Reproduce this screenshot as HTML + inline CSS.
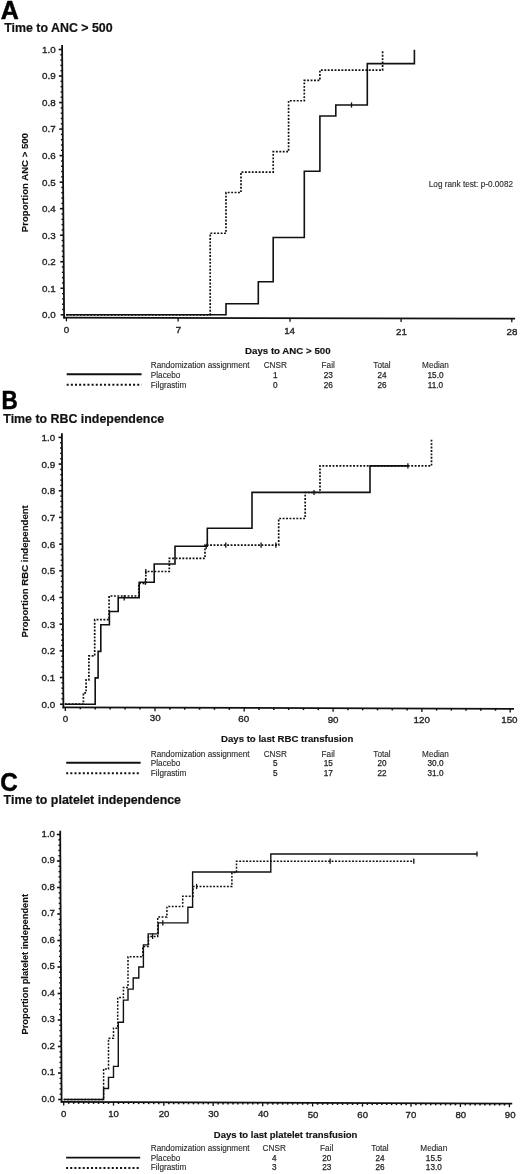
<!DOCTYPE html><html><head><meta charset="utf-8"><style>html,body{margin:0;padding:0;background:#fff;}svg{display:block;filter:grayscale(1);}</style></head><body>
<svg width="520" height="1174" viewBox="0 0 520 1174" font-family='"Liberation Sans", sans-serif'>
<rect width="520" height="1174" fill="#fff"/>
<g fill="#000" stroke="#000" stroke-width="0.5">
<text x="0" y="0" font-size="25" font-weight="bold" transform="translate(0.8 18.7) scale(1.0 1)">A</text>
</g>
<g fill="#111" stroke="#111" stroke-width="0.2">
<text x="4.2" y="31.8" font-size="12.4" font-weight="bold" text-anchor="start" >Time to ANC &gt; 500</text>
</g>
<g stroke="#111" fill="none" stroke-linecap="square">
<line x1="62.1" y1="45.9" x2="64.1" y2="317.7" stroke-width="1.8" />
<line x1="64.1" y1="317.7" x2="514.2" y2="318.6" stroke-width="1.8" />
</g>
<g stroke="#111" fill="none">
<line x1="60.68" y1="314.8" x2="64.08" y2="314.8" stroke-width="1.6" />
<line x1="62.14" y1="309.49" x2="64.04" y2="309.49" stroke-width="1.4" />
<line x1="62.1" y1="304.19" x2="64" y2="304.19" stroke-width="1.4" />
<line x1="62.06" y1="298.88" x2="63.96" y2="298.88" stroke-width="1.4" />
<line x1="62.02" y1="293.58" x2="63.92" y2="293.58" stroke-width="1.4" />
<line x1="60.48" y1="288.27" x2="63.88" y2="288.27" stroke-width="1.6" />
<line x1="61.94" y1="282.96" x2="63.84" y2="282.96" stroke-width="1.4" />
<line x1="61.91" y1="277.66" x2="63.81" y2="277.66" stroke-width="1.4" />
<line x1="61.87" y1="272.35" x2="63.77" y2="272.35" stroke-width="1.4" />
<line x1="61.83" y1="267.05" x2="63.73" y2="267.05" stroke-width="1.4" />
<line x1="60.29" y1="261.74" x2="63.69" y2="261.74" stroke-width="1.6" />
<line x1="61.75" y1="256.43" x2="63.65" y2="256.43" stroke-width="1.4" />
<line x1="61.71" y1="251.13" x2="63.61" y2="251.13" stroke-width="1.4" />
<line x1="61.67" y1="245.82" x2="63.57" y2="245.82" stroke-width="1.4" />
<line x1="61.63" y1="240.52" x2="63.53" y2="240.52" stroke-width="1.4" />
<line x1="60.09" y1="235.21" x2="63.49" y2="235.21" stroke-width="1.6" />
<line x1="61.55" y1="229.9" x2="63.45" y2="229.9" stroke-width="1.4" />
<line x1="61.51" y1="224.6" x2="63.41" y2="224.6" stroke-width="1.4" />
<line x1="61.48" y1="219.29" x2="63.38" y2="219.29" stroke-width="1.4" />
<line x1="61.44" y1="213.99" x2="63.34" y2="213.99" stroke-width="1.4" />
<line x1="59.9" y1="208.68" x2="63.3" y2="208.68" stroke-width="1.6" />
<line x1="61.36" y1="203.37" x2="63.26" y2="203.37" stroke-width="1.4" />
<line x1="61.32" y1="198.07" x2="63.22" y2="198.07" stroke-width="1.4" />
<line x1="61.28" y1="192.76" x2="63.18" y2="192.76" stroke-width="1.4" />
<line x1="61.24" y1="187.46" x2="63.14" y2="187.46" stroke-width="1.4" />
<line x1="59.7" y1="182.15" x2="63.1" y2="182.15" stroke-width="1.6" />
<line x1="61.16" y1="176.84" x2="63.06" y2="176.84" stroke-width="1.4" />
<line x1="61.12" y1="171.54" x2="63.02" y2="171.54" stroke-width="1.4" />
<line x1="61.09" y1="166.23" x2="62.99" y2="166.23" stroke-width="1.4" />
<line x1="61.05" y1="160.93" x2="62.95" y2="160.93" stroke-width="1.4" />
<line x1="59.51" y1="155.62" x2="62.91" y2="155.62" stroke-width="1.6" />
<line x1="60.97" y1="150.31" x2="62.87" y2="150.31" stroke-width="1.4" />
<line x1="60.93" y1="145.01" x2="62.83" y2="145.01" stroke-width="1.4" />
<line x1="60.89" y1="139.7" x2="62.79" y2="139.7" stroke-width="1.4" />
<line x1="60.85" y1="134.4" x2="62.75" y2="134.4" stroke-width="1.4" />
<line x1="59.31" y1="129.09" x2="62.71" y2="129.09" stroke-width="1.6" />
<line x1="60.77" y1="123.78" x2="62.67" y2="123.78" stroke-width="1.4" />
<line x1="60.73" y1="118.48" x2="62.63" y2="118.48" stroke-width="1.4" />
<line x1="60.7" y1="113.17" x2="62.6" y2="113.17" stroke-width="1.4" />
<line x1="60.66" y1="107.87" x2="62.56" y2="107.87" stroke-width="1.4" />
<line x1="59.12" y1="102.56" x2="62.52" y2="102.56" stroke-width="1.6" />
<line x1="60.58" y1="97.25" x2="62.48" y2="97.25" stroke-width="1.4" />
<line x1="60.54" y1="91.95" x2="62.44" y2="91.95" stroke-width="1.4" />
<line x1="60.5" y1="86.64" x2="62.4" y2="86.64" stroke-width="1.4" />
<line x1="60.46" y1="81.34" x2="62.36" y2="81.34" stroke-width="1.4" />
<line x1="58.92" y1="76.03" x2="62.32" y2="76.03" stroke-width="1.6" />
<line x1="60.38" y1="70.72" x2="62.28" y2="70.72" stroke-width="1.4" />
<line x1="60.34" y1="65.42" x2="62.24" y2="65.42" stroke-width="1.4" />
<line x1="60.3" y1="60.11" x2="62.2" y2="60.11" stroke-width="1.4" />
<line x1="60.27" y1="54.81" x2="62.17" y2="54.81" stroke-width="1.4" />
<line x1="58.73" y1="49.5" x2="62.13" y2="49.5" stroke-width="1.6" />
<line x1="66.4" y1="317.7" x2="66.4" y2="321.3" stroke-width="1.3" />
<line x1="178.1" y1="317.93" x2="178.1" y2="321.53" stroke-width="1.3" />
<line x1="290" y1="318.15" x2="290" y2="321.75" stroke-width="1.3" />
<line x1="401.1" y1="318.37" x2="401.1" y2="321.97" stroke-width="1.3" />
<line x1="511.8" y1="318.6" x2="511.8" y2="322.2" stroke-width="1.3" />
</g>
<g fill="#222" stroke="#222" stroke-width="0.35">
<text x="55.6" y="318.2" font-size="9.8" font-weight="normal" text-anchor="end" >0.0</text>
<text x="55.6" y="291.67" font-size="9.8" font-weight="normal" text-anchor="end" >0.1</text>
<text x="55.6" y="265.14" font-size="9.8" font-weight="normal" text-anchor="end" >0.2</text>
<text x="55.6" y="238.61" font-size="9.8" font-weight="normal" text-anchor="end" >0.3</text>
<text x="55.6" y="212.08" font-size="9.8" font-weight="normal" text-anchor="end" >0.4</text>
<text x="55.6" y="185.55" font-size="9.8" font-weight="normal" text-anchor="end" >0.5</text>
<text x="55.6" y="159.02" font-size="9.8" font-weight="normal" text-anchor="end" >0.6</text>
<text x="55.6" y="132.49" font-size="9.8" font-weight="normal" text-anchor="end" >0.7</text>
<text x="55.6" y="105.96" font-size="9.8" font-weight="normal" text-anchor="end" >0.8</text>
<text x="55.6" y="79.43" font-size="9.8" font-weight="normal" text-anchor="end" >0.9</text>
<text x="55.6" y="52.9" font-size="9.8" font-weight="normal" text-anchor="end" >1.0</text>
<text x="66.5" y="333.3" font-size="9.8" font-weight="normal" text-anchor="middle" >0</text>
<text x="178.4" y="333.4" font-size="9.8" font-weight="normal" text-anchor="middle" >7</text>
<text x="289.6" y="333.8" font-size="9.8" font-weight="normal" text-anchor="middle" >14</text>
<text x="401.4" y="334.9" font-size="9.8" font-weight="normal" text-anchor="middle" >21</text>
<text x="512" y="334.9" font-size="9.8" font-weight="normal" text-anchor="middle" >28</text>
</g>
<g fill="#111" stroke="#111" stroke-width="0.15">
<text x="287.8" y="354.3" font-size="9.7" font-weight="bold" text-anchor="middle" >Days to ANC &gt; 500</text>
<text x="0" y="0" font-size="9.6" font-weight="bold" text-anchor="middle" transform="translate(28.2 182.6) rotate(-90)">Proportion ANC &gt; 500</text>
</g>
<g fill="#2a2a2a" stroke="#2a2a2a" stroke-width="0.12">
<text x="150.8" y="367.9" font-size="8.2" font-weight="normal" text-anchor="start" >Randomization assignment</text>
<text x="150.8" y="377.7" font-size="8.2" font-weight="normal" text-anchor="start" >Placebo</text>
<text x="150.8" y="387.5" font-size="8.2" font-weight="normal" text-anchor="start" >Filgrastim</text>
<text x="275.3" y="367.9" font-size="8.2" font-weight="normal" text-anchor="middle" >CNSR</text>
<text x="275.3" y="377.7" font-size="8.2" font-weight="normal" text-anchor="middle" stroke-width="0.25" fill="#1e1e1e" stroke="#1e1e1e">1</text>
<text x="275.3" y="387.5" font-size="8.2" font-weight="normal" text-anchor="middle" stroke-width="0.25" fill="#1e1e1e" stroke="#1e1e1e">0</text>
<text x="328.2" y="367.9" font-size="8.2" font-weight="normal" text-anchor="middle" >Fail</text>
<text x="328.2" y="377.7" font-size="8.2" font-weight="normal" text-anchor="middle" stroke-width="0.25" fill="#1e1e1e" stroke="#1e1e1e">23</text>
<text x="328.2" y="387.5" font-size="8.2" font-weight="normal" text-anchor="middle" stroke-width="0.25" fill="#1e1e1e" stroke="#1e1e1e">26</text>
<text x="382" y="367.9" font-size="8.2" font-weight="normal" text-anchor="middle" >Total</text>
<text x="382" y="377.7" font-size="8.2" font-weight="normal" text-anchor="middle" stroke-width="0.25" fill="#1e1e1e" stroke="#1e1e1e">24</text>
<text x="382" y="387.5" font-size="8.2" font-weight="normal" text-anchor="middle" stroke-width="0.25" fill="#1e1e1e" stroke="#1e1e1e">26</text>
<text x="435.5" y="367.9" font-size="8.2" font-weight="normal" text-anchor="middle" >Median</text>
<text x="435.5" y="377.7" font-size="8.2" font-weight="normal" text-anchor="middle" stroke-width="0.25" fill="#1e1e1e" stroke="#1e1e1e">15.0</text>
<text x="435.5" y="387.5" font-size="8.2" font-weight="normal" text-anchor="middle" stroke-width="0.25" fill="#1e1e1e" stroke="#1e1e1e">11.0</text>
<text x="513" y="187.4" font-size="8.2" font-weight="normal" text-anchor="end" >Log rank test: p-0.0082</text>
</g>
<g stroke="#111" fill="none">
<line x1="66.7" y1="374.2" x2="141.6" y2="374.2" stroke-width="1.9" />
<line x1="66.7" y1="384.7" x2="141.6" y2="384.7" stroke-width="1.9" stroke-dasharray="2 2.15"/>
</g>
<path d="M66.2 314.8 L226 314.8 L226 303.76 L258.3 303.76 L258.3 281.68 L273.2 281.68 L273.2 237.51 L304.3 237.51 L304.3 171.26 L319.9 171.26 L319.9 116.05 L335.8 116.05 L335.8 105.01 L367.3 105.01 L367.3 63.61 L414.4 63.61 L414.4 49.8" fill="none" stroke="#111" stroke-width="1.6"/>
<path d="M66.2 314.8 L210.2 314.8 L210.2 233.26 L226 233.26 L226 192.49 L241 192.49 L241 172.11 L273.2 172.11 L273.2 151.72 L288.6 151.72 L288.6 100.76 L304.3 100.76 L304.3 80.38 L319.9 80.38 L319.9 70.18 L382.6 70.18 L382.6 49.8" fill="none" stroke="#111" stroke-width="1.7" stroke-dasharray="1.9 1.52"/>
<g stroke="#111">
<line x1="351.5" y1="102.41" x2="351.5" y2="107.61" stroke-width="1.3" />
</g>
<g fill="#000" stroke="#000" stroke-width="0.5">
<text x="0" y="0" font-size="25" font-weight="bold" transform="translate(1.6 408.7) scale(0.9 1)">B</text>
</g>
<g fill="#111" stroke="#111" stroke-width="0.2">
<text x="3.3" y="422.5" font-size="12.4" font-weight="bold" text-anchor="start" >Time to RBC independence</text>
</g>
<g stroke="#111" fill="none" stroke-linecap="square">
<line x1="61.9" y1="434.2" x2="63.4" y2="707.3" stroke-width="1.8" />
<line x1="63.4" y1="707.3" x2="513.1" y2="708.8" stroke-width="1.8" />
</g>
<g stroke="#111" fill="none">
<line x1="59.98" y1="704.2" x2="63.38" y2="704.2" stroke-width="1.6" />
<line x1="61.45" y1="698.86" x2="63.35" y2="698.86" stroke-width="1.4" />
<line x1="61.42" y1="693.53" x2="63.32" y2="693.53" stroke-width="1.4" />
<line x1="61.4" y1="688.19" x2="63.3" y2="688.19" stroke-width="1.4" />
<line x1="61.37" y1="682.86" x2="63.27" y2="682.86" stroke-width="1.4" />
<line x1="59.84" y1="677.52" x2="63.24" y2="677.52" stroke-width="1.6" />
<line x1="61.31" y1="672.18" x2="63.21" y2="672.18" stroke-width="1.4" />
<line x1="61.28" y1="666.85" x2="63.18" y2="666.85" stroke-width="1.4" />
<line x1="61.25" y1="661.51" x2="63.15" y2="661.51" stroke-width="1.4" />
<line x1="61.22" y1="656.18" x2="63.12" y2="656.18" stroke-width="1.4" />
<line x1="59.69" y1="650.84" x2="63.09" y2="650.84" stroke-width="1.6" />
<line x1="61.16" y1="645.5" x2="63.06" y2="645.5" stroke-width="1.4" />
<line x1="61.13" y1="640.17" x2="63.03" y2="640.17" stroke-width="1.4" />
<line x1="61.1" y1="634.83" x2="63" y2="634.83" stroke-width="1.4" />
<line x1="61.07" y1="629.5" x2="62.97" y2="629.5" stroke-width="1.4" />
<line x1="59.54" y1="624.16" x2="62.94" y2="624.16" stroke-width="1.6" />
<line x1="61.01" y1="618.82" x2="62.91" y2="618.82" stroke-width="1.4" />
<line x1="60.98" y1="613.49" x2="62.88" y2="613.49" stroke-width="1.4" />
<line x1="60.96" y1="608.15" x2="62.86" y2="608.15" stroke-width="1.4" />
<line x1="60.93" y1="602.82" x2="62.83" y2="602.82" stroke-width="1.4" />
<line x1="59.4" y1="597.48" x2="62.8" y2="597.48" stroke-width="1.6" />
<line x1="60.87" y1="592.14" x2="62.77" y2="592.14" stroke-width="1.4" />
<line x1="60.84" y1="586.81" x2="62.74" y2="586.81" stroke-width="1.4" />
<line x1="60.81" y1="581.47" x2="62.71" y2="581.47" stroke-width="1.4" />
<line x1="60.78" y1="576.14" x2="62.68" y2="576.14" stroke-width="1.4" />
<line x1="59.25" y1="570.8" x2="62.65" y2="570.8" stroke-width="1.6" />
<line x1="60.72" y1="565.46" x2="62.62" y2="565.46" stroke-width="1.4" />
<line x1="60.69" y1="560.13" x2="62.59" y2="560.13" stroke-width="1.4" />
<line x1="60.66" y1="554.79" x2="62.56" y2="554.79" stroke-width="1.4" />
<line x1="60.63" y1="549.46" x2="62.53" y2="549.46" stroke-width="1.4" />
<line x1="59.1" y1="544.12" x2="62.5" y2="544.12" stroke-width="1.6" />
<line x1="60.57" y1="538.78" x2="62.47" y2="538.78" stroke-width="1.4" />
<line x1="60.55" y1="533.45" x2="62.45" y2="533.45" stroke-width="1.4" />
<line x1="60.52" y1="528.11" x2="62.42" y2="528.11" stroke-width="1.4" />
<line x1="60.49" y1="522.78" x2="62.39" y2="522.78" stroke-width="1.4" />
<line x1="58.96" y1="517.44" x2="62.36" y2="517.44" stroke-width="1.6" />
<line x1="60.43" y1="512.1" x2="62.33" y2="512.1" stroke-width="1.4" />
<line x1="60.4" y1="506.77" x2="62.3" y2="506.77" stroke-width="1.4" />
<line x1="60.37" y1="501.43" x2="62.27" y2="501.43" stroke-width="1.4" />
<line x1="60.34" y1="496.1" x2="62.24" y2="496.1" stroke-width="1.4" />
<line x1="58.81" y1="490.76" x2="62.21" y2="490.76" stroke-width="1.6" />
<line x1="60.28" y1="485.42" x2="62.18" y2="485.42" stroke-width="1.4" />
<line x1="60.25" y1="480.09" x2="62.15" y2="480.09" stroke-width="1.4" />
<line x1="60.22" y1="474.75" x2="62.12" y2="474.75" stroke-width="1.4" />
<line x1="60.19" y1="469.42" x2="62.09" y2="469.42" stroke-width="1.4" />
<line x1="58.66" y1="464.08" x2="62.06" y2="464.08" stroke-width="1.6" />
<line x1="60.13" y1="458.74" x2="62.03" y2="458.74" stroke-width="1.4" />
<line x1="60.11" y1="453.41" x2="62.01" y2="453.41" stroke-width="1.4" />
<line x1="60.08" y1="448.07" x2="61.98" y2="448.07" stroke-width="1.4" />
<line x1="60.05" y1="442.74" x2="61.95" y2="442.74" stroke-width="1.4" />
<line x1="58.52" y1="437.4" x2="61.92" y2="437.4" stroke-width="1.6" />
<line x1="65.3" y1="707.31" x2="65.3" y2="710.91" stroke-width="1.3" />
<line x1="155" y1="707.61" x2="155" y2="711.21" stroke-width="1.3" />
<line x1="244.2" y1="707.9" x2="244.2" y2="711.5" stroke-width="1.3" />
<line x1="333.1" y1="708.2" x2="333.1" y2="711.8" stroke-width="1.3" />
<line x1="421.9" y1="708.5" x2="421.9" y2="712.1" stroke-width="1.3" />
<line x1="510.2" y1="708.79" x2="510.2" y2="712.39" stroke-width="1.3" />
<line x1="80.25" y1="707.36" x2="80.25" y2="709.36" stroke-width="1.5" />
<line x1="95.2" y1="707.41" x2="95.2" y2="709.41" stroke-width="1.5" />
<line x1="110.15" y1="707.46" x2="110.15" y2="709.46" stroke-width="1.5" />
<line x1="125.1" y1="707.51" x2="125.1" y2="709.51" stroke-width="1.5" />
<line x1="140.05" y1="707.56" x2="140.05" y2="709.56" stroke-width="1.5" />
<line x1="169.87" y1="707.66" x2="169.87" y2="709.66" stroke-width="1.5" />
<line x1="184.73" y1="707.7" x2="184.73" y2="709.7" stroke-width="1.5" />
<line x1="199.6" y1="707.75" x2="199.6" y2="709.75" stroke-width="1.5" />
<line x1="214.47" y1="707.8" x2="214.47" y2="709.8" stroke-width="1.5" />
<line x1="229.33" y1="707.85" x2="229.33" y2="709.85" stroke-width="1.5" />
<line x1="259.02" y1="707.95" x2="259.02" y2="709.95" stroke-width="1.5" />
<line x1="273.83" y1="708" x2="273.83" y2="710" stroke-width="1.5" />
<line x1="288.65" y1="708.05" x2="288.65" y2="710.05" stroke-width="1.5" />
<line x1="303.47" y1="708.1" x2="303.47" y2="710.1" stroke-width="1.5" />
<line x1="318.28" y1="708.15" x2="318.28" y2="710.15" stroke-width="1.5" />
<line x1="347.9" y1="708.25" x2="347.9" y2="710.25" stroke-width="1.5" />
<line x1="362.7" y1="708.3" x2="362.7" y2="710.3" stroke-width="1.5" />
<line x1="377.5" y1="708.35" x2="377.5" y2="710.35" stroke-width="1.5" />
<line x1="392.3" y1="708.4" x2="392.3" y2="710.4" stroke-width="1.5" />
<line x1="407.1" y1="708.45" x2="407.1" y2="710.45" stroke-width="1.5" />
<line x1="436.62" y1="708.54" x2="436.62" y2="710.54" stroke-width="1.5" />
<line x1="451.33" y1="708.59" x2="451.33" y2="710.59" stroke-width="1.5" />
<line x1="466.05" y1="708.64" x2="466.05" y2="710.64" stroke-width="1.5" />
<line x1="480.77" y1="708.69" x2="480.77" y2="710.69" stroke-width="1.5" />
<line x1="495.48" y1="708.74" x2="495.48" y2="710.74" stroke-width="1.5" />
</g>
<g fill="#222" stroke="#222" stroke-width="0.35">
<text x="55.1" y="707.8" font-size="9.8" font-weight="normal" text-anchor="end" >0.0</text>
<text x="55.1" y="681.12" font-size="9.8" font-weight="normal" text-anchor="end" >0.1</text>
<text x="55.1" y="654.44" font-size="9.8" font-weight="normal" text-anchor="end" >0.2</text>
<text x="55.1" y="627.76" font-size="9.8" font-weight="normal" text-anchor="end" >0.3</text>
<text x="55.1" y="601.08" font-size="9.8" font-weight="normal" text-anchor="end" >0.4</text>
<text x="55.1" y="574.4" font-size="9.8" font-weight="normal" text-anchor="end" >0.5</text>
<text x="55.1" y="547.72" font-size="9.8" font-weight="normal" text-anchor="end" >0.6</text>
<text x="55.1" y="521.04" font-size="9.8" font-weight="normal" text-anchor="end" >0.7</text>
<text x="55.1" y="494.36" font-size="9.8" font-weight="normal" text-anchor="end" >0.8</text>
<text x="55.1" y="467.68" font-size="9.8" font-weight="normal" text-anchor="end" >0.9</text>
<text x="55.1" y="441" font-size="9.8" font-weight="normal" text-anchor="end" >1.0</text>
<text x="65.4" y="721.6" font-size="9.8" font-weight="normal" text-anchor="middle" >0</text>
<text x="155.2" y="721.4" font-size="9.8" font-weight="normal" text-anchor="middle" >30</text>
<text x="243.8" y="722.1" font-size="9.8" font-weight="normal" text-anchor="middle" >60</text>
<text x="333.1" y="723.1" font-size="9.8" font-weight="normal" text-anchor="middle" >90</text>
<text x="421.7" y="723.3" font-size="9.8" font-weight="normal" text-anchor="middle" >120</text>
<text x="509.4" y="723.3" font-size="9.8" font-weight="normal" text-anchor="middle" >150</text>
</g>
<g fill="#111" stroke="#111" stroke-width="0.15">
<text x="287.2" y="742.4" font-size="9.6" font-weight="bold" text-anchor="middle" >Days to last RBC transfusion</text>
<text x="0" y="0" font-size="9.6" font-weight="bold" text-anchor="middle" transform="translate(28 571.3) rotate(-90)">Proportion RBC independent</text>
</g>
<g fill="#2a2a2a" stroke="#2a2a2a" stroke-width="0.12">
<text x="150.8" y="756.5" font-size="8.2" font-weight="normal" text-anchor="start" >Randomization assignment</text>
<text x="150.8" y="766.2" font-size="8.2" font-weight="normal" text-anchor="start" >Placebo</text>
<text x="150.8" y="775.8" font-size="8.2" font-weight="normal" text-anchor="start" >Filgrastim</text>
<text x="275.3" y="756.5" font-size="8.2" font-weight="normal" text-anchor="middle" >CNSR</text>
<text x="275.3" y="766.2" font-size="8.2" font-weight="normal" text-anchor="middle" stroke-width="0.25" fill="#1e1e1e" stroke="#1e1e1e">5</text>
<text x="275.3" y="775.8" font-size="8.2" font-weight="normal" text-anchor="middle" stroke-width="0.25" fill="#1e1e1e" stroke="#1e1e1e">5</text>
<text x="328.2" y="756.5" font-size="8.2" font-weight="normal" text-anchor="middle" >Fail</text>
<text x="328.2" y="766.2" font-size="8.2" font-weight="normal" text-anchor="middle" stroke-width="0.25" fill="#1e1e1e" stroke="#1e1e1e">15</text>
<text x="328.2" y="775.8" font-size="8.2" font-weight="normal" text-anchor="middle" stroke-width="0.25" fill="#1e1e1e" stroke="#1e1e1e">17</text>
<text x="382" y="756.5" font-size="8.2" font-weight="normal" text-anchor="middle" >Total</text>
<text x="382" y="766.2" font-size="8.2" font-weight="normal" text-anchor="middle" stroke-width="0.25" fill="#1e1e1e" stroke="#1e1e1e">20</text>
<text x="382" y="775.8" font-size="8.2" font-weight="normal" text-anchor="middle" stroke-width="0.25" fill="#1e1e1e" stroke="#1e1e1e">22</text>
<text x="435.5" y="756.5" font-size="8.2" font-weight="normal" text-anchor="middle" >Median</text>
<text x="435.5" y="766.2" font-size="8.2" font-weight="normal" text-anchor="middle" stroke-width="0.25" fill="#1e1e1e" stroke="#1e1e1e">30.0</text>
<text x="435.5" y="775.8" font-size="8.2" font-weight="normal" text-anchor="middle" stroke-width="0.25" fill="#1e1e1e" stroke="#1e1e1e">31.0</text>
</g>
<g stroke="#111" fill="none">
<line x1="66.2" y1="762.7" x2="140.6" y2="762.7" stroke-width="1.9" />
<line x1="66.2" y1="773.3" x2="140.6" y2="773.3" stroke-width="1.9" stroke-dasharray="2 2.15"/>
</g>
<path d="M64.8 704.2 L95.2 704.2 L95.2 677.9 L98.1 677.9 L98.1 651.4 L100.8 651.4 L100.8 624.8 L109.4 624.8 L109.4 611.5 L118.2 611.5 L118.2 597.8 L139.2 597.8 L139.2 582.3 L154.2 582.3 L154.2 564 L175 564 L175 546.3 L207.3 546.3 L207.3 528.2 L252 528.2 L252 492.4 L370 492.4 L370 465.9 L407.9 465.9" fill="none" stroke="#111" stroke-width="1.6"/>
<path d="M64.8 704.2 L83.4 704.2 L83.4 692.8 L86.1 692.8 L86.1 679.8 L88.9 679.8 L88.9 655.8 L94.7 655.8 L94.7 619.7 L109.1 619.7 L109.1 596 L138.8 596 L138.8 583.5 L145.8 583.5 L145.8 571.5 L169.3 571.5 L169.3 558.4 L205 558.4 L205 545.1 L278.7 545.1 L278.7 518.5 L305.2 518.5 L305.2 492.5 L320 492.5 L320 465.8 L431.5 465.8 L431.5 439" fill="none" stroke="#111" stroke-width="1.7" stroke-dasharray="1.9 1.52"/>
<g stroke="#111">
<line x1="124.2" y1="595.2" x2="124.2" y2="600.4" stroke-width="1.3" />
<line x1="145.4" y1="579.7" x2="145.4" y2="584.9" stroke-width="1.3" />
<line x1="145.8" y1="568.9" x2="145.8" y2="574.1" stroke-width="1.3" />
<line x1="206.2" y1="543.7" x2="206.2" y2="548.9" stroke-width="1.3" />
<line x1="225.8" y1="542.5" x2="225.8" y2="547.7" stroke-width="1.3" />
<line x1="261.1" y1="542.5" x2="261.1" y2="547.7" stroke-width="1.3" />
<line x1="275.9" y1="542.5" x2="275.9" y2="547.7" stroke-width="1.3" />
<line x1="314" y1="489.9" x2="314" y2="495.1" stroke-width="1.3" />
<line x1="407.9" y1="463.3" x2="407.9" y2="468.5" stroke-width="1.3" />
</g>
<g fill="#000" stroke="#000" stroke-width="0.5">
<text x="0" y="0" font-size="25" font-weight="bold" transform="translate(0.3 790.6) scale(0.97 1)">C</text>
</g>
<g fill="#111" stroke="#111" stroke-width="0.2">
<text x="3.6" y="804.4" font-size="12.4" font-weight="bold" text-anchor="start" >Time to platelet independence</text>
</g>
<g stroke="#111" fill="none" stroke-linecap="square">
<line x1="60.2" y1="831.7" x2="61.6" y2="1101.8" stroke-width="1.8" />
<line x1="61.6" y1="1101.8" x2="511.3" y2="1103.6" stroke-width="1.8" />
</g>
<g stroke="#111" fill="none">
<line x1="58.19" y1="1099.5" x2="61.59" y2="1099.5" stroke-width="1.6" />
<line x1="59.66" y1="1094.2" x2="61.56" y2="1094.2" stroke-width="1.4" />
<line x1="59.63" y1="1088.9" x2="61.53" y2="1088.9" stroke-width="1.4" />
<line x1="59.61" y1="1083.6" x2="61.51" y2="1083.6" stroke-width="1.4" />
<line x1="59.58" y1="1078.3" x2="61.48" y2="1078.3" stroke-width="1.4" />
<line x1="58.05" y1="1073" x2="61.45" y2="1073" stroke-width="1.6" />
<line x1="59.52" y1="1067.7" x2="61.42" y2="1067.7" stroke-width="1.4" />
<line x1="59.5" y1="1062.4" x2="61.4" y2="1062.4" stroke-width="1.4" />
<line x1="59.47" y1="1057.1" x2="61.37" y2="1057.1" stroke-width="1.4" />
<line x1="59.44" y1="1051.8" x2="61.34" y2="1051.8" stroke-width="1.4" />
<line x1="57.91" y1="1046.5" x2="61.31" y2="1046.5" stroke-width="1.6" />
<line x1="59.39" y1="1041.2" x2="61.29" y2="1041.2" stroke-width="1.4" />
<line x1="59.36" y1="1035.9" x2="61.26" y2="1035.9" stroke-width="1.4" />
<line x1="59.33" y1="1030.6" x2="61.23" y2="1030.6" stroke-width="1.4" />
<line x1="59.3" y1="1025.3" x2="61.2" y2="1025.3" stroke-width="1.4" />
<line x1="57.78" y1="1020" x2="61.18" y2="1020" stroke-width="1.6" />
<line x1="59.25" y1="1014.7" x2="61.15" y2="1014.7" stroke-width="1.4" />
<line x1="59.22" y1="1009.4" x2="61.12" y2="1009.4" stroke-width="1.4" />
<line x1="59.19" y1="1004.1" x2="61.09" y2="1004.1" stroke-width="1.4" />
<line x1="59.17" y1="998.8" x2="61.07" y2="998.8" stroke-width="1.4" />
<line x1="57.64" y1="993.5" x2="61.04" y2="993.5" stroke-width="1.6" />
<line x1="59.11" y1="988.2" x2="61.01" y2="988.2" stroke-width="1.4" />
<line x1="59.08" y1="982.9" x2="60.98" y2="982.9" stroke-width="1.4" />
<line x1="59.06" y1="977.6" x2="60.96" y2="977.6" stroke-width="1.4" />
<line x1="59.03" y1="972.3" x2="60.93" y2="972.3" stroke-width="1.4" />
<line x1="57.5" y1="967" x2="60.9" y2="967" stroke-width="1.6" />
<line x1="58.97" y1="961.7" x2="60.87" y2="961.7" stroke-width="1.4" />
<line x1="58.95" y1="956.4" x2="60.85" y2="956.4" stroke-width="1.4" />
<line x1="58.92" y1="951.1" x2="60.82" y2="951.1" stroke-width="1.4" />
<line x1="58.89" y1="945.8" x2="60.79" y2="945.8" stroke-width="1.4" />
<line x1="57.36" y1="940.5" x2="60.76" y2="940.5" stroke-width="1.6" />
<line x1="58.84" y1="935.2" x2="60.74" y2="935.2" stroke-width="1.4" />
<line x1="58.81" y1="929.9" x2="60.71" y2="929.9" stroke-width="1.4" />
<line x1="58.78" y1="924.6" x2="60.68" y2="924.6" stroke-width="1.4" />
<line x1="58.75" y1="919.3" x2="60.65" y2="919.3" stroke-width="1.4" />
<line x1="57.23" y1="914" x2="60.63" y2="914" stroke-width="1.6" />
<line x1="58.7" y1="908.7" x2="60.6" y2="908.7" stroke-width="1.4" />
<line x1="58.67" y1="903.4" x2="60.57" y2="903.4" stroke-width="1.4" />
<line x1="58.64" y1="898.1" x2="60.54" y2="898.1" stroke-width="1.4" />
<line x1="58.62" y1="892.8" x2="60.52" y2="892.8" stroke-width="1.4" />
<line x1="57.09" y1="887.5" x2="60.49" y2="887.5" stroke-width="1.6" />
<line x1="58.56" y1="882.2" x2="60.46" y2="882.2" stroke-width="1.4" />
<line x1="58.53" y1="876.9" x2="60.43" y2="876.9" stroke-width="1.4" />
<line x1="58.51" y1="871.6" x2="60.41" y2="871.6" stroke-width="1.4" />
<line x1="58.48" y1="866.3" x2="60.38" y2="866.3" stroke-width="1.4" />
<line x1="56.95" y1="861" x2="60.35" y2="861" stroke-width="1.6" />
<line x1="58.42" y1="855.7" x2="60.32" y2="855.7" stroke-width="1.4" />
<line x1="58.4" y1="850.4" x2="60.3" y2="850.4" stroke-width="1.4" />
<line x1="58.37" y1="845.1" x2="60.27" y2="845.1" stroke-width="1.4" />
<line x1="58.34" y1="839.8" x2="60.24" y2="839.8" stroke-width="1.4" />
<line x1="56.81" y1="834.5" x2="60.21" y2="834.5" stroke-width="1.6" />
<line x1="63.7" y1="1101.81" x2="63.7" y2="1105.41" stroke-width="1.3" />
<line x1="113.5" y1="1102.01" x2="113.5" y2="1105.61" stroke-width="1.3" />
<line x1="163.8" y1="1102.21" x2="163.8" y2="1105.81" stroke-width="1.3" />
<line x1="213.2" y1="1102.41" x2="213.2" y2="1106.01" stroke-width="1.3" />
<line x1="262.7" y1="1102.6" x2="262.7" y2="1106.2" stroke-width="1.3" />
<line x1="312.6" y1="1102.8" x2="312.6" y2="1106.4" stroke-width="1.3" />
<line x1="362.5" y1="1103" x2="362.5" y2="1106.6" stroke-width="1.3" />
<line x1="411" y1="1103.2" x2="411" y2="1106.8" stroke-width="1.3" />
<line x1="460.4" y1="1103.4" x2="460.4" y2="1107" stroke-width="1.3" />
<line x1="509.4" y1="1103.59" x2="509.4" y2="1107.19" stroke-width="1.3" />
<line x1="68.68" y1="1101.83" x2="68.68" y2="1103.83" stroke-width="1.5" />
<line x1="73.66" y1="1101.85" x2="73.66" y2="1103.85" stroke-width="1.5" />
<line x1="78.64" y1="1101.87" x2="78.64" y2="1103.87" stroke-width="1.5" />
<line x1="83.62" y1="1101.89" x2="83.62" y2="1103.89" stroke-width="1.5" />
<line x1="88.6" y1="1101.91" x2="88.6" y2="1103.91" stroke-width="1.5" />
<line x1="93.58" y1="1101.93" x2="93.58" y2="1103.93" stroke-width="1.5" />
<line x1="98.56" y1="1101.95" x2="98.56" y2="1103.95" stroke-width="1.5" />
<line x1="103.54" y1="1101.97" x2="103.54" y2="1103.97" stroke-width="1.5" />
<line x1="108.52" y1="1101.99" x2="108.52" y2="1103.99" stroke-width="1.5" />
<line x1="118.53" y1="1102.03" x2="118.53" y2="1104.03" stroke-width="1.5" />
<line x1="123.56" y1="1102.05" x2="123.56" y2="1104.05" stroke-width="1.5" />
<line x1="128.59" y1="1102.07" x2="128.59" y2="1104.07" stroke-width="1.5" />
<line x1="133.62" y1="1102.09" x2="133.62" y2="1104.09" stroke-width="1.5" />
<line x1="138.65" y1="1102.11" x2="138.65" y2="1104.11" stroke-width="1.5" />
<line x1="143.68" y1="1102.13" x2="143.68" y2="1104.13" stroke-width="1.5" />
<line x1="148.71" y1="1102.15" x2="148.71" y2="1104.15" stroke-width="1.5" />
<line x1="153.74" y1="1102.17" x2="153.74" y2="1104.17" stroke-width="1.5" />
<line x1="158.77" y1="1102.19" x2="158.77" y2="1104.19" stroke-width="1.5" />
<line x1="168.74" y1="1102.23" x2="168.74" y2="1104.23" stroke-width="1.5" />
<line x1="173.68" y1="1102.25" x2="173.68" y2="1104.25" stroke-width="1.5" />
<line x1="178.62" y1="1102.27" x2="178.62" y2="1104.27" stroke-width="1.5" />
<line x1="183.56" y1="1102.29" x2="183.56" y2="1104.29" stroke-width="1.5" />
<line x1="188.5" y1="1102.31" x2="188.5" y2="1104.31" stroke-width="1.5" />
<line x1="193.44" y1="1102.33" x2="193.44" y2="1104.33" stroke-width="1.5" />
<line x1="198.38" y1="1102.35" x2="198.38" y2="1104.35" stroke-width="1.5" />
<line x1="203.32" y1="1102.37" x2="203.32" y2="1104.37" stroke-width="1.5" />
<line x1="208.26" y1="1102.39" x2="208.26" y2="1104.39" stroke-width="1.5" />
<line x1="218.15" y1="1102.43" x2="218.15" y2="1104.43" stroke-width="1.5" />
<line x1="223.1" y1="1102.45" x2="223.1" y2="1104.45" stroke-width="1.5" />
<line x1="228.05" y1="1102.47" x2="228.05" y2="1104.47" stroke-width="1.5" />
<line x1="233" y1="1102.49" x2="233" y2="1104.49" stroke-width="1.5" />
<line x1="237.95" y1="1102.51" x2="237.95" y2="1104.51" stroke-width="1.5" />
<line x1="242.9" y1="1102.53" x2="242.9" y2="1104.53" stroke-width="1.5" />
<line x1="247.85" y1="1102.55" x2="247.85" y2="1104.55" stroke-width="1.5" />
<line x1="252.8" y1="1102.57" x2="252.8" y2="1104.57" stroke-width="1.5" />
<line x1="257.75" y1="1102.59" x2="257.75" y2="1104.59" stroke-width="1.5" />
<line x1="267.69" y1="1102.62" x2="267.69" y2="1104.62" stroke-width="1.5" />
<line x1="272.68" y1="1102.64" x2="272.68" y2="1104.64" stroke-width="1.5" />
<line x1="277.67" y1="1102.66" x2="277.67" y2="1104.66" stroke-width="1.5" />
<line x1="282.66" y1="1102.68" x2="282.66" y2="1104.68" stroke-width="1.5" />
<line x1="287.65" y1="1102.7" x2="287.65" y2="1104.7" stroke-width="1.5" />
<line x1="292.64" y1="1102.72" x2="292.64" y2="1104.72" stroke-width="1.5" />
<line x1="297.63" y1="1102.74" x2="297.63" y2="1104.74" stroke-width="1.5" />
<line x1="302.62" y1="1102.76" x2="302.62" y2="1104.76" stroke-width="1.5" />
<line x1="307.61" y1="1102.78" x2="307.61" y2="1104.78" stroke-width="1.5" />
<line x1="317.59" y1="1102.82" x2="317.59" y2="1104.82" stroke-width="1.5" />
<line x1="322.58" y1="1102.84" x2="322.58" y2="1104.84" stroke-width="1.5" />
<line x1="327.57" y1="1102.86" x2="327.57" y2="1104.86" stroke-width="1.5" />
<line x1="332.56" y1="1102.88" x2="332.56" y2="1104.88" stroke-width="1.5" />
<line x1="337.55" y1="1102.9" x2="337.55" y2="1104.9" stroke-width="1.5" />
<line x1="342.54" y1="1102.92" x2="342.54" y2="1104.92" stroke-width="1.5" />
<line x1="347.53" y1="1102.94" x2="347.53" y2="1104.94" stroke-width="1.5" />
<line x1="352.52" y1="1102.96" x2="352.52" y2="1104.96" stroke-width="1.5" />
<line x1="357.51" y1="1102.98" x2="357.51" y2="1104.98" stroke-width="1.5" />
<line x1="367.35" y1="1103.02" x2="367.35" y2="1105.02" stroke-width="1.5" />
<line x1="372.2" y1="1103.04" x2="372.2" y2="1105.04" stroke-width="1.5" />
<line x1="377.05" y1="1103.06" x2="377.05" y2="1105.06" stroke-width="1.5" />
<line x1="381.9" y1="1103.08" x2="381.9" y2="1105.08" stroke-width="1.5" />
<line x1="386.75" y1="1103.1" x2="386.75" y2="1105.1" stroke-width="1.5" />
<line x1="391.6" y1="1103.12" x2="391.6" y2="1105.12" stroke-width="1.5" />
<line x1="396.45" y1="1103.14" x2="396.45" y2="1105.14" stroke-width="1.5" />
<line x1="401.3" y1="1103.16" x2="401.3" y2="1105.16" stroke-width="1.5" />
<line x1="406.15" y1="1103.18" x2="406.15" y2="1105.18" stroke-width="1.5" />
<line x1="415.94" y1="1103.22" x2="415.94" y2="1105.22" stroke-width="1.5" />
<line x1="420.88" y1="1103.24" x2="420.88" y2="1105.24" stroke-width="1.5" />
<line x1="425.82" y1="1103.26" x2="425.82" y2="1105.26" stroke-width="1.5" />
<line x1="430.76" y1="1103.28" x2="430.76" y2="1105.28" stroke-width="1.5" />
<line x1="435.7" y1="1103.3" x2="435.7" y2="1105.3" stroke-width="1.5" />
<line x1="440.64" y1="1103.32" x2="440.64" y2="1105.32" stroke-width="1.5" />
<line x1="445.58" y1="1103.34" x2="445.58" y2="1105.34" stroke-width="1.5" />
<line x1="450.52" y1="1103.36" x2="450.52" y2="1105.36" stroke-width="1.5" />
<line x1="455.46" y1="1103.38" x2="455.46" y2="1105.38" stroke-width="1.5" />
<line x1="465.3" y1="1103.42" x2="465.3" y2="1105.42" stroke-width="1.5" />
<line x1="470.2" y1="1103.44" x2="470.2" y2="1105.44" stroke-width="1.5" />
<line x1="475.1" y1="1103.46" x2="475.1" y2="1105.46" stroke-width="1.5" />
<line x1="480" y1="1103.47" x2="480" y2="1105.47" stroke-width="1.5" />
<line x1="484.9" y1="1103.49" x2="484.9" y2="1105.49" stroke-width="1.5" />
<line x1="489.8" y1="1103.51" x2="489.8" y2="1105.51" stroke-width="1.5" />
<line x1="494.7" y1="1103.53" x2="494.7" y2="1105.53" stroke-width="1.5" />
<line x1="499.6" y1="1103.55" x2="499.6" y2="1105.55" stroke-width="1.5" />
<line x1="504.5" y1="1103.57" x2="504.5" y2="1105.57" stroke-width="1.5" />
</g>
<g fill="#222" stroke="#222" stroke-width="0.35">
<text x="54.9" y="1101.8" font-size="9.6" font-weight="normal" text-anchor="end" >0.0</text>
<text x="54.9" y="1075.3" font-size="9.6" font-weight="normal" text-anchor="end" >0.1</text>
<text x="54.9" y="1048.8" font-size="9.6" font-weight="normal" text-anchor="end" >0.2</text>
<text x="54.9" y="1022.3" font-size="9.6" font-weight="normal" text-anchor="end" >0.3</text>
<text x="54.9" y="995.8" font-size="9.6" font-weight="normal" text-anchor="end" >0.4</text>
<text x="54.9" y="969.3" font-size="9.6" font-weight="normal" text-anchor="end" >0.5</text>
<text x="54.9" y="942.8" font-size="9.6" font-weight="normal" text-anchor="end" >0.6</text>
<text x="54.9" y="916.3" font-size="9.6" font-weight="normal" text-anchor="end" >0.7</text>
<text x="54.9" y="889.8" font-size="9.6" font-weight="normal" text-anchor="end" >0.8</text>
<text x="54.9" y="863.3" font-size="9.6" font-weight="normal" text-anchor="end" >0.9</text>
<text x="54.9" y="836.8" font-size="9.6" font-weight="normal" text-anchor="end" >1.0</text>
<text x="63.7" y="1116.8" font-size="9.6" font-weight="normal" text-anchor="middle" >0</text>
<text x="113.5" y="1116.9" font-size="9.6" font-weight="normal" text-anchor="middle" >10</text>
<text x="164" y="1117.1" font-size="9.6" font-weight="normal" text-anchor="middle" >20</text>
<text x="213.6" y="1117.2" font-size="9.6" font-weight="normal" text-anchor="middle" >30</text>
<text x="263.3" y="1117.4" font-size="9.6" font-weight="normal" text-anchor="middle" >40</text>
<text x="313" y="1117.6" font-size="9.6" font-weight="normal" text-anchor="middle" >50</text>
<text x="362.7" y="1117.8" font-size="9.6" font-weight="normal" text-anchor="middle" >60</text>
<text x="410.9" y="1118" font-size="9.6" font-weight="normal" text-anchor="middle" >70</text>
<text x="460.8" y="1118.2" font-size="9.6" font-weight="normal" text-anchor="middle" >80</text>
<text x="510.2" y="1118.4" font-size="9.6" font-weight="normal" text-anchor="middle" >90</text>
</g>
<g fill="#111" stroke="#111" stroke-width="0.15">
<text x="285.6" y="1138.2" font-size="9.5" font-weight="bold" text-anchor="middle" >Days to last platelet transfusion</text>
<text x="0" y="0" font-size="9.3" font-weight="bold" text-anchor="middle" transform="translate(28 964.2) rotate(-90)">Proportion platelet independent</text>
</g>
<g fill="#2a2a2a" stroke="#2a2a2a" stroke-width="0.12">
<text x="150.8" y="1151.3" font-size="8.2" font-weight="normal" text-anchor="start" >Randomization assignment</text>
<text x="150.8" y="1160.9" font-size="8.2" font-weight="normal" text-anchor="start" >Placebo</text>
<text x="150.8" y="1170.4" font-size="8.2" font-weight="normal" text-anchor="start" >Filgrastim</text>
<text x="274.2" y="1151.3" font-size="8.2" font-weight="normal" text-anchor="middle" >CNSR</text>
<text x="274.2" y="1160.9" font-size="8.2" font-weight="normal" text-anchor="middle" stroke-width="0.25" fill="#1e1e1e" stroke="#1e1e1e">4</text>
<text x="274.2" y="1170.4" font-size="8.2" font-weight="normal" text-anchor="middle" stroke-width="0.25" fill="#1e1e1e" stroke="#1e1e1e">3</text>
<text x="326.7" y="1151.3" font-size="8.2" font-weight="normal" text-anchor="middle" >Fail</text>
<text x="326.7" y="1160.9" font-size="8.2" font-weight="normal" text-anchor="middle" stroke-width="0.25" fill="#1e1e1e" stroke="#1e1e1e">20</text>
<text x="326.7" y="1170.4" font-size="8.2" font-weight="normal" text-anchor="middle" stroke-width="0.25" fill="#1e1e1e" stroke="#1e1e1e">23</text>
<text x="380" y="1151.3" font-size="8.2" font-weight="normal" text-anchor="middle" >Total</text>
<text x="380" y="1160.9" font-size="8.2" font-weight="normal" text-anchor="middle" stroke-width="0.25" fill="#1e1e1e" stroke="#1e1e1e">24</text>
<text x="380" y="1170.4" font-size="8.2" font-weight="normal" text-anchor="middle" stroke-width="0.25" fill="#1e1e1e" stroke="#1e1e1e">26</text>
<text x="433.8" y="1151.3" font-size="8.2" font-weight="normal" text-anchor="middle" >Median</text>
<text x="433.8" y="1160.9" font-size="8.2" font-weight="normal" text-anchor="middle" stroke-width="0.25" fill="#1e1e1e" stroke="#1e1e1e">15.5</text>
<text x="433.8" y="1170.4" font-size="8.2" font-weight="normal" text-anchor="middle" stroke-width="0.25" fill="#1e1e1e" stroke="#1e1e1e">13.0</text>
</g>
<g stroke="#111" fill="none">
<line x1="66.1" y1="1157.6" x2="140.2" y2="1157.6" stroke-width="1.9" />
<line x1="66.1" y1="1168" x2="140.2" y2="1168" stroke-width="1.9" stroke-dasharray="2 2.15"/>
</g>
<path d="M63.7 1099.5 L103.6 1099.5 L103.6 1088.46 L108.5 1088.46 L108.5 1077.42 L113.5 1077.42 L113.5 1066.38 L118.3 1066.38 L118.3 1022.21 L123.4 1022.21 L123.4 1000.12 L128 1000.12 L128 989.08 L133.2 989.08 L133.2 978.04 L138.8 978.04 L138.8 967 L143.4 967 L143.4 944.92 L148.2 944.92 L148.2 933.88 L158.2 933.88 L158.2 922.83 L187.9 922.83 L187.9 907.3 L192.6 907.3 L192.6 872 L270.8 872 L270.8 854 L477 854" fill="none" stroke="#111" stroke-width="1.4"/>
<path d="M63.7 1099.5 L103.6 1099.5 L103.6 1068.92 L108.5 1068.92 L108.5 1038.35 L113.5 1038.35 L113.5 1028.15 L117.7 1028.15 L117.7 997.58 L123.4 997.58 L123.4 987.38 L128 987.38 L128 956.81 L142.8 956.81 L142.8 946.62 L148.5 946.62 L148.5 936.42 L157.7 936.42 L157.7 917 L166.9 917 L166.9 906.6 L182.7 906.6 L182.7 896.2 L193 896.2 L193 886.5 L231.9 886.5 L231.9 872.6 L236.5 872.6 L236.5 861.2 L413.8 861.2" fill="none" stroke="#111" stroke-width="1.5" stroke-dasharray="1.9 1.52"/>
<g stroke="#111">
<line x1="162.8" y1="920.23" x2="162.8" y2="925.43" stroke-width="1.3" />
<line x1="477" y1="851.4" x2="477" y2="856.6" stroke-width="1.3" />
<line x1="152.6" y1="933.82" x2="152.6" y2="939.02" stroke-width="1.3" />
<line x1="196.6" y1="883.9" x2="196.6" y2="889.1" stroke-width="1.3" />
<line x1="330.1" y1="858.6" x2="330.1" y2="863.8" stroke-width="1.3" />
<line x1="413.8" y1="858.6" x2="413.8" y2="863.8" stroke-width="1.3" />
</g>
</svg></body></html>
